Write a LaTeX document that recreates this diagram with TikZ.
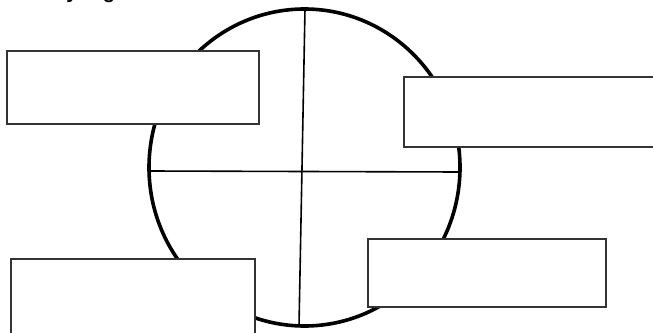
\documentclass[tikz,border=0pt]{standalone}
\usepackage{fontspec}
\setmainfont{Liberation Sans}
\usepackage{tikz}
\usetikzlibrary{positioning, calc}
\tikzset{
	ringline/.style={
			draw=black,
			line width=3.6pt
		},
	axisline/.style={
			draw=black,
			line width=1.6pt
		},
	cardnode/.style={
			rectangle,
			draw=black!80,
			fill=white,
			line width=1.1pt,
			inner sep=0pt
		},
	headtext/.style={
			font=\bfseries\fontsize{20}{24}\selectfont,
			inner sep=0pt,
			anchor=base
		}
}

\begin{document}
\begin{tikzpicture}[x=1pt, y=-1pt]
\useasboundingbox (0,0) rectangle (653,332);

% title line, only its descenders are on the page
\node[headtext] (ty) at (72,-1.5) {y};
\node[headtext] (tg) at (109,-1.5) {g};

\draw[ringline] (304.5,167.5) ellipse [x radius=155.5pt, y radius=158.5pt];

\coordinate (vtop) at (305,9);
\coordinate (vbot) at (299,326);
\coordinate (hleft) at (150,171);
\coordinate (hright) at (459,172);
\draw[axisline] (vtop) -- (vbot);
\draw[axisline] (hleft) -- (hright);

\node[cardnode, minimum width=252pt, minimum height=73pt] (c1) at (133,87.5) {};
\node[cardnode, minimum width=261pt, minimum height=70pt] (c2) at (534.5,112) {};
\node[cardnode, minimum width=244pt, minimum height=86pt] (c3) at (133,302) {};
\node[cardnode, minimum width=238pt, minimum height=68pt] (c4) at (487,273) {};
\end{tikzpicture}
\end{document}
